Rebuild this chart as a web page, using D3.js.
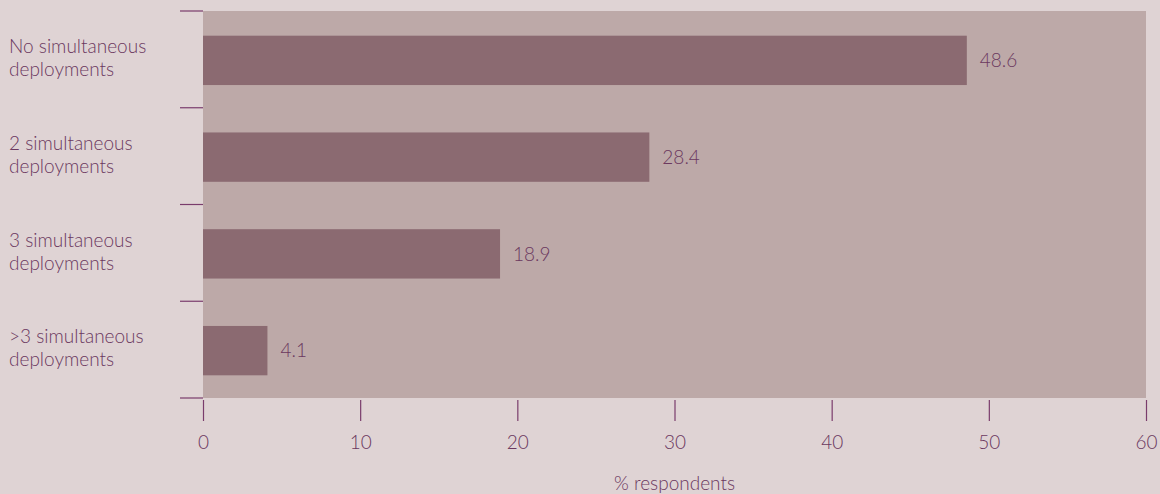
<!DOCTYPE html>
<html>
<head>
<meta charset="utf-8">
<script src="https://cdn.jsdelivr.net/npm/d3@7"></script>
<style>
  html, body { margin: 0; padding: 0; background: #dfd3d4; }
  svg { display: block; font-family: Lato, "Open Sans", sans-serif; }
</style>
</head>
<body>
<svg id="chart" width="1160" height="494"></svg>
<script>
// Number of simultaneous deployments, % of respondents
const categories = [
  ["No simultaneous", "deployments"],
  ["2 simultaneous", "deployments"],
  ["3 simultaneous", "deployments"],
  [">3 simultaneous", "deployments"]
];
const values = [48.6, 28.4, 18.9, 4.1];
const xTicks = [0, 10, 20, 30, 40, 50, 60];
const xTitle = "% respondents";

const W = 1160, H = 494;
const margin = { top: 11, right: 14, bottom: 96, left: 203 };
const innerW = W - margin.left - margin.right;
const innerH = H - margin.top - margin.bottom;

const textColor = "#6b385f";
const tickColor = "#7a3c6c";
const fontSize = 19;

const svg = d3.select("#chart");
svg.append("rect").attr("width", W).attr("height", H).attr("fill", "#dfd3d4");

const g = svg.append("g").attr("transform", `translate(${margin.left},${margin.top})`);

const x = d3.scaleLinear().domain([0, 60]).range([0, innerW]);
const y = d3.scaleBand().domain(d3.range(categories.length)).range([0, innerH])
  .paddingInner(0.49).paddingOuter(0.245);

// plot background
g.append("rect").attr("x", 0).attr("y", 0).attr("width", innerW).attr("height", innerH).attr("fill", "#bda9a8");

// bars
g.selectAll("rect.bar").data(values).join("rect")
  .attr("class", "bar")
  .attr("x", x(0))
  .attr("y", (d, i) => y(i) + 1)
  .attr("width", d => x(d) - x(0))
  .attr("height", y.bandwidth())
  .attr("fill", "#8b6a71");

// value labels
g.selectAll("text.val").data(values).join("text")
  .attr("class", "val")
  .attr("x", d => x(d) + 13)
  .attr("y", (d, i) => y(i) + 1 + y.bandwidth() / 2)
  .attr("dy", "0.35em")
  .attr("fill", textColor)
  .attr("font-size", fontSize)
  .attr("font-weight", 300)
  .text(d => d.toFixed(1));

// category boundary ticks on the left
const bounds = d3.range(categories.length + 1).map(i => i * innerH / categories.length);
g.selectAll("line.ytick").data(bounds).join("line")
  .attr("class", "ytick")
  .attr("x1", -23).attr("x2", 0)
  .attr("y1", d => d).attr("y2", d => d)
  .attr("stroke", tickColor).attr("stroke-width", 1.2);

// category labels, two lines each
const labels = g.selectAll("text.cat").data(categories).join("text")
  .attr("class", "cat")
  .attr("fill", textColor)
  .attr("font-size", fontSize)
  .attr("font-weight", 300)
  .attr("transform", (d, i) => `translate(${9 - margin.left},${(i + 0.5) * innerH / categories.length})`);
labels.selectAll("tspan").data(d => d).join("tspan")
  .attr("x", 0)
  .attr("y", (d, j) => j === 0 ? -13 : 10)
  .attr("dy", "0.35em")
  .text(d => d);

// x axis
const xAxis = d3.axisBottom(x).tickValues(xTicks).tickSize(21).tickPadding(15).tickFormat(d3.format("d"));
const ax = g.append("g").attr("transform", `translate(0,${innerH + 2})`).call(xAxis);
ax.select(".domain").remove();
ax.selectAll(".tick line").attr("stroke", tickColor).attr("stroke-width", 1.2);
ax.selectAll(".tick text").attr("fill", textColor).attr("font-size", fontSize).attr("font-weight", 300)
  .attr("font-family", "Lato, 'Open Sans', sans-serif");

// axis title
g.append("text")
  .attr("x", innerW / 2)
  .attr("y", innerH + 92)
  .attr("text-anchor", "middle")
  .attr("fill", textColor)
  .attr("font-size", fontSize)
  .attr("font-weight", 300)
  .text(xTitle);
</script>
</body>
</html>
